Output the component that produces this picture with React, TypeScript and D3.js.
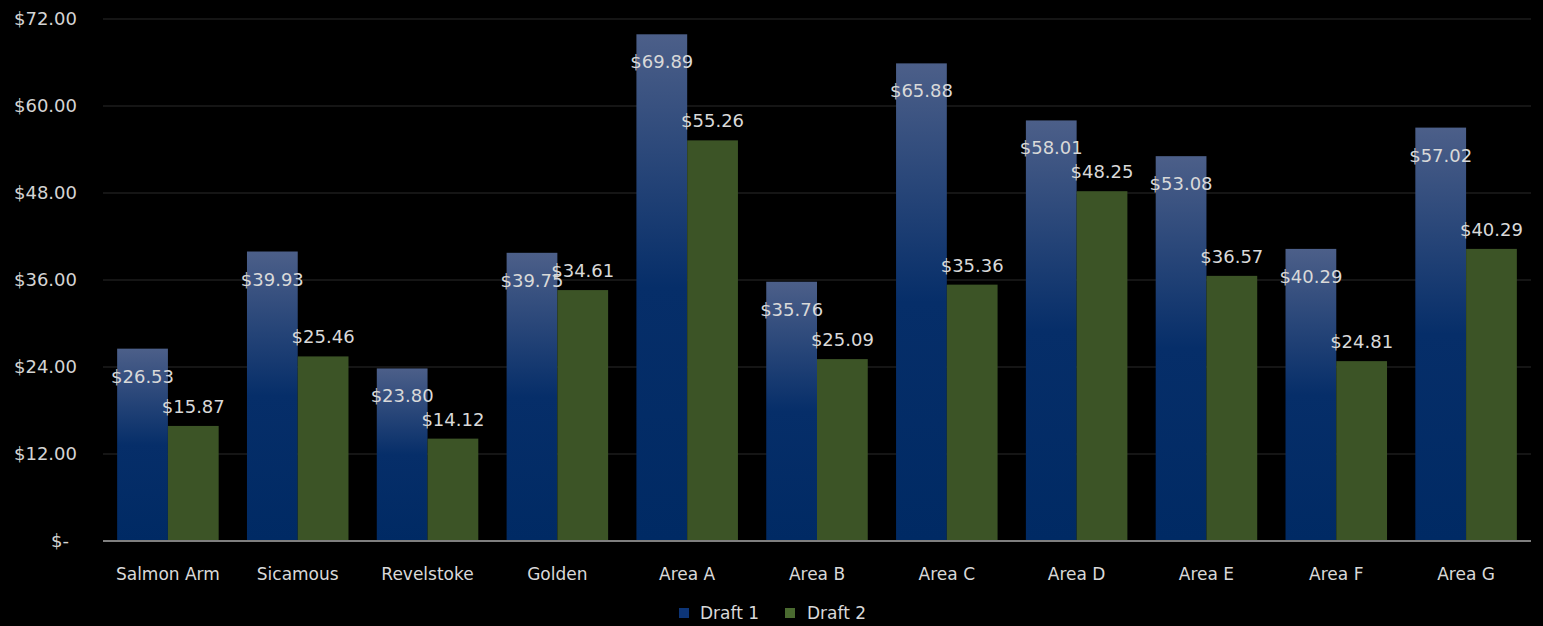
import React from "react";
import * as d3 from "d3";

const categories = ["Salmon Arm", "Sicamous", "Revelstoke", "Golden", "Area A", "Area B", "Area C", "Area D", "Area E", "Area F", "Area G"];
const draft1 = [26.53, 39.93, 23.8, 39.75, 69.89, 35.76, 65.88, 58.01, 53.08, 40.29, 57.02];
const draft2 = [15.87, 25.46, 14.12, 34.61, 55.26, 25.09, 35.36, 48.25, 36.57, 24.81, 40.29];
const seriesNames = ["Draft 1", "Draft 2"];
const yTicks = [0, 12, 24, 36, 48, 60, 72];

const W = 1543;
const H = 626;
const FONT = "'DejaVu Sans', sans-serif";
const GREEN = "#3c5426";

const fmt = (v: number) => (v === 0 ? "$-" : "$" + d3.format(".2f")(v));

export default function App() {
  const x = d3.scaleBand<string>().domain(categories).range([103, 1531]).paddingInner(0).paddingOuter(0);
  const y = d3.scaleLinear().domain([0, 72]).range([541, 19]);
  const groupW = x.bandwidth() * 0.782;
  const x1 = d3.scaleBand<string>().domain(seriesNames).range([0, groupW]).padding(0);
  const off = (x.bandwidth() - groupW) / 2;

  return (
    <div style={{ position: "fixed", left: 0, top: 0, width: W, height: H, background: "#000" }}>
      <svg width={W} height={H} style={{ display: "block", background: "#000" }}>
        <defs>
          <linearGradient id="g1" x1="0" y1="0" x2="0" y2="1">
            <stop offset="0%" stopColor="#4c5f89" />
            <stop offset="50%" stopColor="#062e69" />
            <stop offset="100%" stopColor="#002a64" />
          </linearGradient>
        </defs>
        {yTicks.map((t) => (
          <g key={t}>
            {t !== 0 && <line x1={103} x2={1531} y1={y(t)} y2={y(t)} stroke="#1c1c1c" strokeWidth={1.5} />}
            <text
              x={t === 0 ? 69 : 77}
              y={y(t)}
              dy="0.36em"
              textAnchor="end"
              fill="#d4d4d4"
              fontFamily={FONT}
              fontSize={18}
            >
              {fmt(t)}
            </text>
          </g>
        ))}
        {categories.map((c, i) => {
          const gx = (x(c) as number) + off;
          const bw = x1.bandwidth();
          const b1x = gx + (x1("Draft 1") as number);
          const b2x = gx + (x1("Draft 2") as number);
          return (
            <g key={c}>
              <rect x={b1x} y={y(draft1[i])} width={bw} height={y(0) - y(draft1[i])} fill="url(#g1)" />
              <rect x={b2x} y={y(draft2[i])} width={bw} height={y(0) - y(draft2[i])} fill={GREEN} />
            </g>
          );
        })}
        <line x1={103} x2={1531} y1={y(0)} y2={y(0)} stroke="#7f7f7f" strokeWidth={2} />
        {categories.map((c, i) => {
          const gx = (x(c) as number) + off;
          const bw = x1.bandwidth();
          const b1x = gx + (x1("Draft 1") as number);
          const b2x = gx + (x1("Draft 2") as number);
          return (
            <g key={c + "l"} fontFamily={FONT} fontSize={18} fill="#d9d9d9" textAnchor="middle">
              <text x={b1x + bw / 2} y={y(draft1[i]) + 34}>{fmt(draft1[i])}</text>
              <text x={b2x + bw / 2} y={y(draft2[i]) - 13}>{fmt(draft2[i])}</text>
              <text x={(x(c) as number) + x.bandwidth() / 2} y={580} fontSize={17}>{c}</text>
            </g>
          );
        })}
        <g fontFamily={FONT} fontSize={17} fill="#d9d9d9">
          <rect x={679} y={608} width={10} height={10} fill="#0d3577" />
          <text x={700} y={619}>{seriesNames[0]}</text>
          <rect x={785} y={608} width={10} height={10} fill="#4a6a30" />
          <text x={807} y={619}>{seriesNames[1]}</text>
        </g>
      </svg>
    </div>
  );
}
